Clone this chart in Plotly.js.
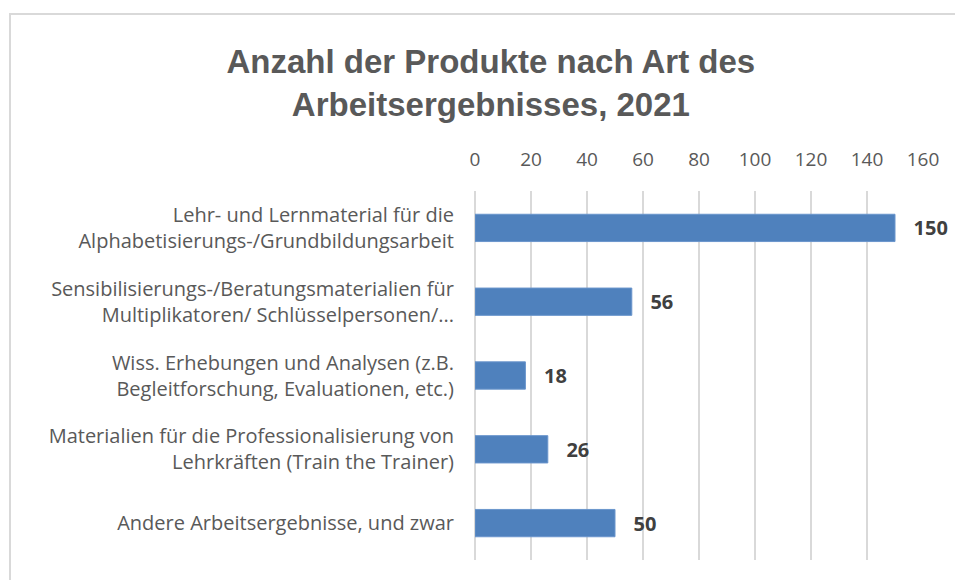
<!DOCTYPE html>
<html><head><meta charset="utf-8">
<script src="https://cdn.plot.ly/plotly-3.0.1.min.js"></script>
<style>html,body{margin:0;padding:0;background:#fff;}#chart{width:955px;height:580px;}</style>
</head><body><div id="chart"></div>
<script>
const categories = [
  "Lehr- und Lernmaterial für die<br>Alphabetisierungs-/Grundbildungsarbeit",
  "Sensibilisierungs-/Beratungsmaterialien für<br>Multiplikatoren/ Schlüsselpersonen/...",
  "Wiss. Erhebungen und Analysen (z.B.<br>Begleitforschung, Evaluationen, etc.)",
  "Materialien für die Professionalisierung von<br>Lehrkräften (Train the Trainer)",
  "Andere Arbeitsergebnisse, und zwar"
];
const values = [150, 56, 18, 26, 50];
const xTicks = [0, 20, 40, 60, 80, 100, 120, 140, 160];
const titleText = "Anzahl der Produkte nach Art des<br>Arbeitsergebnisses, 2021";

const L = 475, R = 32, T = 191, B = 20, W = 955, H = 580;
const pw = W - L - R, ph = H - T - B;

const trace = {
  type: 'bar', orientation: 'h',
  x: values, y: categories,
  width: 0.37,
  marker: {color: '#4f81bd', line: {color: '#6a95cc', width: 1}},
  text: values.map(v => String(v)),
  texttemplate: '   %{text}',
  textposition: 'outside',
  textfont: {family: 'Open Sans, Liberation Sans, sans-serif', size: 20, color: '#404040', weight: 'bold'},
  cliponaxis: false,
  hoverinfo: 'none'
};

const layout = {
  width: W, height: H,
  margin: {l: L, r: R, t: T, b: B},
  paper_bgcolor: '#ffffff', plot_bgcolor: '#ffffff',
  showlegend: false,
  title: {
    text: titleText,
    font: {family: 'Liberation Sans, sans-serif', size: 33, color: '#595959', weight: 'bold'},
    x: 0.514, xref: 'container', xanchor: 'center',
    y: 1 - 73/580, yref: 'container', yanchor: 'middle'
  },
  xaxis: {
    side: 'top', range: [0, 160], tickvals: xTicks, ticktext: xTicks.map(String),
    showgrid: true, gridcolor: '#d9d9d9', gridwidth: 1.5,
    zeroline: true, zerolinecolor: '#d9d9d9', zerolinewidth: 1.5,
    showline: false, ticks: '', ticklabelstandoff: 20,
    tickfont: {family: 'Open Sans, sans-serif', size: 19, color: '#595959'},
    fixedrange: true
  },
  yaxis: {
    autorange: 'reversed', showgrid: false, zeroline: false, showline: false,
    ticks: '', ticklabelstandoff: 20,
    tickfont: {family: 'Open Sans, sans-serif', size: 20, color: '#595959'},
    fixedrange: true
  },
  shapes: [{
    type: 'rect', xref: 'paper', yref: 'paper',
    x0: (10 - L)/pw, x1: (W + 20 - L)/pw,
    y0: (H - B - (H + 20))/ph, y1: (H - B - 14)/ph,
    line: {color: '#d9d9d9', width: 2}, fillcolor: 'rgba(0,0,0,0)', layer: 'below'
  }]
};

Plotly.newPlot('chart', [trace], layout, {displayModeBar: false, staticPlot: true});
</script></body></html>
